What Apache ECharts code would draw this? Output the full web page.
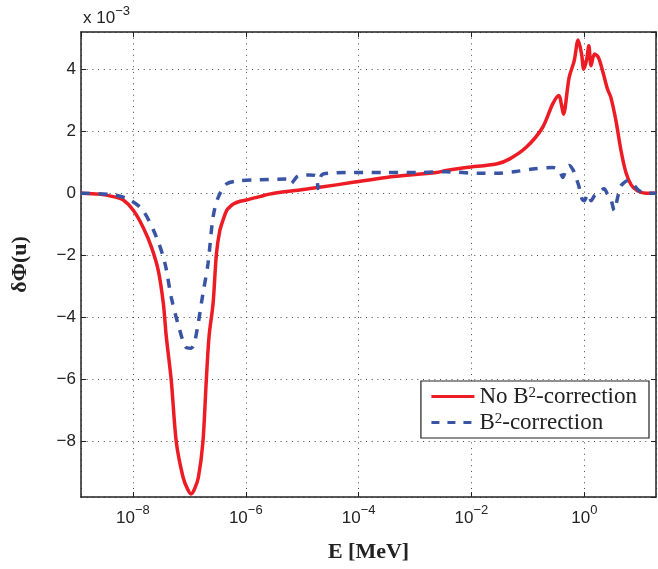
<!DOCTYPE html>
<html><head><meta charset="utf-8">
<script src="https://cdn.jsdelivr.net/npm/echarts@6/dist/echarts.min.js"></script>
<style>html,body{margin:0;padding:0;background:#fff}#c{width:658px;height:569px}</style>
</head><body><div id="c"></div>
<script>
// ---- data (values in units of 1e-3; energies as log10(E / MeV), drawn on a decade axis) ----
const xMinExp = -8.92, xMaxExp = 1.27;
const yMin = -9.8, yMax = 5.2;
const seriesNames = ['No B2-correction', 'B2-correction'];
const redLogE = [-8.92,-8.6,-8.35,-8.17,-7.99,-7.82,-7.67,-7.55,-7.46,-7.41,-7.32,-7.23,-7.11,-7.03,-6.97,-6.91,-6.84,-6.76,-6.70,-6.65,-6.58,-6.52,-6.46,-6.40,-6.34,-6.28,-6.22,-6.10,-5.99,-5.75,-5.58,-5.16,-4.69,-4.10,-3.51,-2.62,-2.45,-2.09,-1.56,-1.33,-1.03,-0.74,-0.56,-0.45,-0.41,-0.37,-0.27,-0.18,-0.11,-0.05,-0.01,0.04,0.08,0.12,0.18,0.25,0.33,0.41,0.47,0.56,0.65,0.74,0.83,0.94,1.09,1.27];
const redVal = [0,-0.03,-0.11,-0.22,-0.56,-1.10,-1.75,-2.5,-3.57,-4.6,-6.05,-8.04,-9.17,-9.55,-9.70,-9.55,-9.17,-8.04,-6.05,-4.6,-3.57,-1.96,-1.21,-0.85,-0.56,-0.44,-0.35,-0.26,-0.22,-0.11,-0.03,0.08,0.19,0.35,0.51,0.67,0.73,0.83,0.94,1.10,1.48,2.12,2.88,3.15,2.9,2.55,3.73,4.27,4.94,4.5,4.0,4.3,4.76,4.11,4.49,4.38,3.9,3.36,3.09,2.34,1.37,0.65,0.27,0.08,0.0,0.0];
const blueLogE = [-8.92,-8.35,-8.05,-7.82,-7.58,-7.43,-7.32,-7.20,-7.06,-6.97,-6.90,-6.76,-6.67,-6.58,-6.49,-6.34,-6.11,-5.75,-5.28,-5.21,-5.07,-4.87,-4.75,-4.72,-4.68,-4.63,-4.10,-3.51,-2.92,-2.45,-1.86,-1.56,-1.21,-0.92,-0.56,-0.45,-0.38,-0.32,-0.27,-0.20,-0.15,-0.10,-0.04,0.0,0.06,0.12,0.18,0.24,0.35,0.41,0.47,0.53,0.59,0.65,0.77,0.86,0.97,1.09,1.27];
const blueVal = [0,-0.05,-0.22,-0.56,-1.43,-2.28,-3.36,-4.22,-4.97,-5.0,-4.76,-3.25,-2.28,-0.78,-0.14,0.30,0.40,0.43,0.46,0.30,0.56,0.59,0.55,0.15,0.5,0.62,0.67,0.67,0.67,0.69,0.64,0.64,0.70,0.78,0.83,0.75,0.51,0.8,0.89,0.75,0.51,0.25,-0.19,-0.24,-0.03,-0.24,-0.08,0.0,0.14,-0.03,-0.19,-0.56,-0.14,0.24,0.40,0.30,0.08,0.0,0.0];

const SERIF = "'Liberation Serif','DejaVu Serif',serif";
const SANS = "'Liberation Sans',Arial,sans-serif";
const toPairs = (le, v) => le.map((e, i) => [e, v[i]]);
const minus = s => String(s).replace('-', '\u2212');

const gridLine = { show: true, lineStyle: { color: '#444', width: 1, type: [1, 4.7] } };
const axisLineStyle = { show: true, onZero: false, lineStyle: { color: '#222', width: 1.5 } };
const tickIn = { show: true, inside: true, length: 5, lineStyle: { color: '#222', width: 1 } };

const chart = echarts.init(document.getElementById('c'), null, { renderer: 'canvas' });
chart.setOption({
  animation: false,
  backgroundColor: '#fff',
  grid: { left: 81, right: 2, top: 32, bottom: 72, containLabel: false },
  graphic: [{
    type: 'text', left: 83, top: 5,
    style: {
      text: '{a|x 10}{b|\u22123}',
      rich: {
        a: { fontFamily: SANS, fontSize: 17, lineHeight: 26, fill: '#222' },
        b: { fontFamily: SANS, fontSize: 13, lineHeight: 12, verticalAlign: 'top', fill: '#222' }
      }
    }
  }],
  xAxis: [{
    type: 'value', min: xMinExp, max: xMaxExp, splitNumber: 5,
    name: 'E [MeV]', nameLocation: 'middle', nameGap: 44,
    nameTextStyle: { fontFamily: SERIF, fontWeight: 'bold', fontSize: 22, color: '#222' },
    axisLine: axisLineStyle, axisTick: tickIn, splitLine: gridLine,
    axisLabel: {
      showMinLabel: false, showMaxLabel: false, margin: 7,
      formatter: v => '{b|10}{s|' + minus(Math.round(v)) + '}',
      rich: {
        b: { fontFamily: SANS, fontSize: 17, lineHeight: 28, color: '#222' },
        s: { fontFamily: SANS, fontSize: 13, lineHeight: 12, verticalAlign: 'top', color: '#222' }
      }
    }
  }, {
    type: 'value', position: 'top', min: xMinExp, max: xMaxExp, splitNumber: 5,
    axisLine: axisLineStyle, axisTick: tickIn, splitLine: { show: false },
    axisLabel: { show: false }
  }],
  yAxis: [{
    type: 'value', min: yMin, max: yMax, splitNumber: 7,
    name: '\u03b4\u03a6(u)', nameLocation: 'middle', nameGap: 50, nameRotate: 90,
    nameTextStyle: { fontFamily: SERIF, fontWeight: 'bold', fontSize: 22, color: '#222' },
    axisLine: axisLineStyle, axisTick: tickIn, splitLine: gridLine,
    axisLabel: {
      showMinLabel: false, showMaxLabel: false, margin: 5,
      fontFamily: SANS, fontSize: 17, color: '#222',
      formatter: v => minus(v)
    }
  }, {
    type: 'value', min: yMin, max: yMax, splitNumber: 7, position: 'right',
    axisLine: axisLineStyle, axisTick: tickIn, splitLine: { show: false },
    axisLabel: { show: false }
  }],
  legend: {
    orient: 'vertical', right: 9, top: 381,
    itemWidth: 43, itemHeight: 14, itemGap: 3,
    padding: [4, 12, 4, 9],
    backgroundColor: '#fff', borderColor: '#222', borderWidth: 1.2, borderRadius: 0,
    itemStyle: { opacity: 0 },
    textStyle: {
      fontFamily: SERIF, fontSize: 23, color: '#222',
      rich: {
        t: { fontFamily: SERIF, fontSize: 23, lineHeight: 22, color: '#222' },
        s: { fontFamily: SERIF, fontSize: 15, lineHeight: 12, verticalAlign: 'top', color: '#222' }
      }
    },
    formatter: name => {
      const i = name.indexOf('B2');
      return '{t|' + name.slice(0, i + 1) + '}{s|2}{t|' + name.slice(i + 2) + '}';
    },
    data: [
      { name: seriesNames[0], lineStyle: { width: 3, color: '#ED1C24' } },
      { name: seriesNames[1], lineStyle: { width: 3, color: '#3A54A4', type: [8, 8] } }
    ]
  },
  series: [{
    name: seriesNames[0], type: 'line', data: toPairs(redLogE, redVal),
    showSymbol: false, symbol: 'none', smooth: 0.3,
    lineStyle: { color: '#ED1C24', width: 3.5 }, itemStyle: { color: '#ED1C24' }, z: 3
  }, {
    name: seriesNames[1], type: 'line', data: toPairs(blueLogE, blueVal),
    showSymbol: false, symbol: 'none', smooth: 0.3,
    lineStyle: { color: '#3A54A4', width: 3.5, type: [9, 8.5] }, itemStyle: { color: '#3A54A4' }, z: 4
  }]
});
</script>
</body></html>
